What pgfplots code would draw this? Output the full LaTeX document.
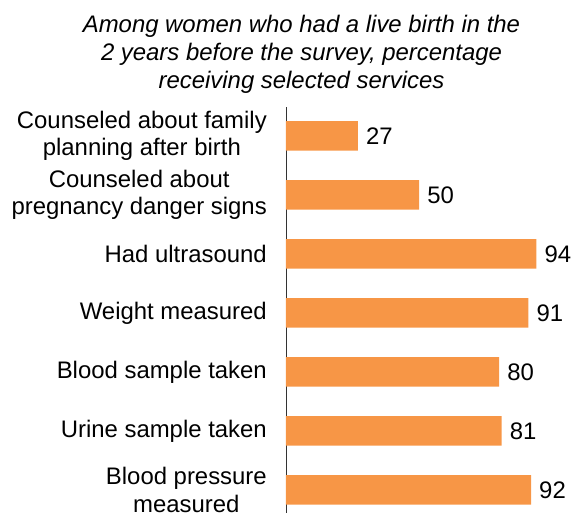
\documentclass[border=0pt]{standalone}
\usepackage{fontspec}
\setmainfont{Liberation Sans}
\usepackage{pgfplots}
\pgfplotsset{compat=1.18}
\definecolor{barorange}{HTML}{F79646}
\begin{document}
\begin{tikzpicture}
\begin{axis}[
  at={(0,0)}, anchor=south west,
  scale only axis,
  width=285bp, height=406bp,
  xbar, bar width=29.5bp,
  xmin=0, xmax=107,
  ymin=-0.39, ymax=6.49,
  axis x line=none,
  axis y line=left,
  y axis line style={-, draw=black!80, line width=0.8bp},
  ytick={0,1,2,3,4,5,6},
  yticklabels={{Blood pressure\\measured},{Urine sample taken},{Blood sample taken},{Weight measured},{Had ultrasound},{Counseled about\\pregnancy danger signs},{Counseled about family\\planning after birth}},
  major tick length=0pt,
  yticklabel style={align=center, anchor=east, inner sep=0pt, xshift=-19bp, font=\fontsize{24}{27.5}\selectfont},
  nodes near coords,
  /pgf/number format/assume math mode=true,
  nodes near coords style={anchor=west, inner sep=0pt, xshift=8bp, font=\fontsize{24}{27.5}\selectfont, text=black},
  clip=false,
]
\addplot[fill=barorange, draw=none] coordinates {
  (92,0) (81,1) (80,2) (91,3) (94,4) (50,5) (27,6)
};
\end{axis}
\begin{scope}[font=\fontsize{24}{28}\selectfont\itshape]
\node[anchor=base, inner sep=0pt] at (15.5bp,480.3bp) {Among women who had a live birth in the};
\node[anchor=base, inner sep=0pt] at (15.5bp,452bp) {2 years before the survey, percentage};
\node[anchor=base, inner sep=0pt] at (15.5bp,424bp) {receiving selected services};
\end{scope}
\pgfresetboundingbox
\path (-286bp,0bp) rectangle (285bp,513bp);
\end{tikzpicture}
\end{document}
